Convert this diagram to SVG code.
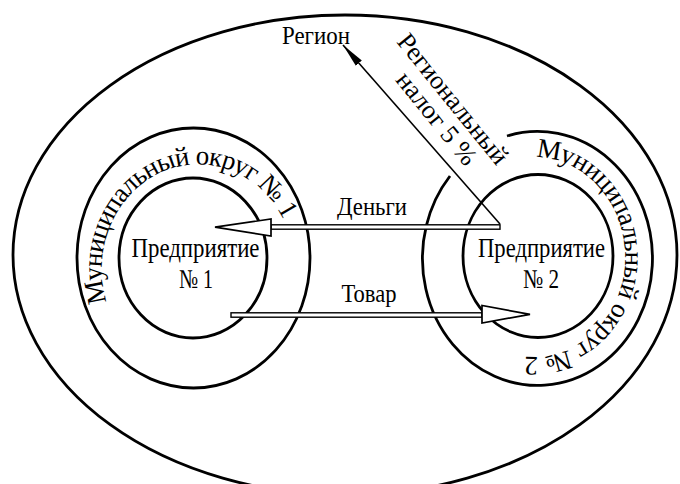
<svg xmlns="http://www.w3.org/2000/svg" width="680" height="484" viewBox="0 0 680 484">
<style>
.ring{fill:none;stroke:#000;stroke-width:2.8}
.t{font-family:"Liberation Serif","Times New Roman",serif;fill:#000}
.arc{font-size:27px;letter-spacing:-0.5px}
.arcl{font-size:27px;letter-spacing:-0.9px}
.bar{fill:#fff;stroke:#000;stroke-width:1.4}
.head{fill:#fff;stroke:#000;stroke-width:1.7;stroke-linejoin:miter}
</style>
<defs>
<marker id="ah" markerWidth="24" markerHeight="10" refX="24" refY="5" orient="auto" markerUnits="userSpaceOnUse">
<path d="M0,1 L24,5 L0,9 Z" fill="#000"/>
</marker>
<path id="p1" d="M 106.7 302 A 96 104 0 1 1 290 236"/>
<path id="p2" d="M 536 157 A 92 100 0 1 1 515 355"/>
</defs>
<rect width="680" height="484" fill="#fff"/>
<g id="region">
<ellipse class="ring" cx="345" cy="255" rx="332" ry="240"/>
<text class="t" x="316" y="44" font-size="26" text-anchor="middle" textLength="68" lengthAdjust="spacingAndGlyphs">Регион</text>
</g>
<g id="municipal1">
<ellipse class="ring" cx="193.5" cy="258" rx="116.5" ry="130"/>
<text class="t arcl"><textPath href="#p1">Муниципальный округ № 1</textPath></text>
</g>
<g id="enterprise1">
<ellipse class="ring" cx="193" cy="258" rx="74" ry="80"/>
<text class="t" x="195.5" y="257" font-size="27" text-anchor="middle" textLength="128" lengthAdjust="spacingAndGlyphs">Предприятие</text>
<text class="t" x="196" y="288" font-size="27" text-anchor="middle" textLength="34" lengthAdjust="spacingAndGlyphs">№ 1</text>
</g>
<g id="municipal2">
<path class="ring" d="M 507 136 A 115 127 0 1 1 450 176"/>
<text class="t arc"><textPath href="#p2">Муниципальный округ № 2</textPath></text>
</g>
<g id="enterprise2">
<ellipse class="ring" cx="538" cy="256" rx="75" ry="81.5"/>
<text class="t" x="541.5" y="257" font-size="27" text-anchor="middle" textLength="127" lengthAdjust="spacingAndGlyphs">Предприятие</text>
<text class="t" x="541" y="288" font-size="27" text-anchor="middle" textLength="36" lengthAdjust="spacingAndGlyphs">№ 2</text>
</g>
<g id="connectors">
<rect class="bar" x="271" y="224.8" width="229" height="4.4"/>
<polygon class="head" points="271,219 271,236 215,227.2"/>
<text class="t" x="372" y="215" font-size="26" text-anchor="middle" textLength="70" lengthAdjust="spacingAndGlyphs">Деньги</text>
<rect class="bar" x="231" y="312.8" width="251" height="4.4"/>
<polygon class="head" points="482,305.5 482,323 530,314.3"/>
<text class="t" x="369" y="302" font-size="26" text-anchor="middle" textLength="55" lengthAdjust="spacingAndGlyphs">Товар</text>
<line x1="500" y1="224" x2="343" y2="45" stroke="#000" stroke-width="1.6" marker-end="url(#ah)"/>
<g transform="translate(396,42) rotate(51)">
<text class="t" x="80" y="0" font-size="26" text-anchor="middle" textLength="160" lengthAdjust="spacingAndGlyphs">Региональный</text>
<text class="t" x="85" y="25" font-size="26" text-anchor="middle" textLength="112" lengthAdjust="spacingAndGlyphs">налог 5 %</text>
</g>
</g>
</svg>
